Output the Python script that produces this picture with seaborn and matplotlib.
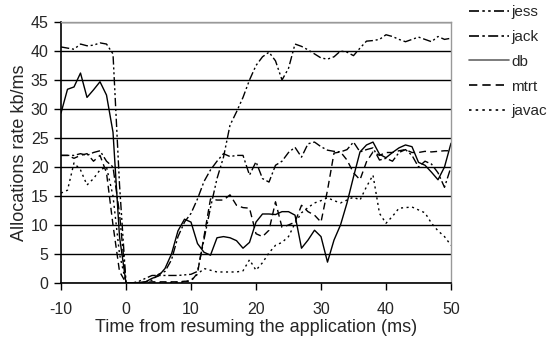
import numpy as np
import pandas as pd
import matplotlib
matplotlib.use("Agg")
import matplotlib.pyplot as plt
import seaborn as sns

t = list(range(-10, 51))

jess = [40.7, 40.5, 40.3, 41.2, 40.9, 41.0, 41.4, 41.2, 39.5, 17.0, 0.0,
        0.0, 0.3, 0.8, 1.3, 1.3, 1.3, 1.3, 1.3, 1.4, 1.5,
        2.0, 7.5, 13.0, 18.0, 21.7, 27.2, 29.5, 32.0, 35.0, 37.5,
        39.0, 39.8, 38.3, 35.0, 37.0, 41.2, 40.8, 40.2, 39.5, 38.8,
        38.6, 39.0, 40.0, 39.8, 39.2, 40.5, 41.7, 41.8, 42.0, 42.8,
        42.5, 42.0, 41.6, 42.0, 42.4, 42.0, 41.6, 42.5, 42.0, 42.2]

jack = [22.0, 22.0, 22.0, 22.3, 22.0, 22.5, 22.8, 21.0, 20.0, 12.0, 0.0,
        0.0, 0.0, 0.2, 0.5, 1.5, 2.0, 4.0, 8.0, 10.5, 12.0,
        14.5, 17.5, 19.5, 21.0, 22.3, 21.8, 22.0, 22.0, 18.6, 20.9,
        18.0, 17.4, 20.3, 21.0, 22.5, 23.4, 21.7, 24.0, 24.3, 23.5,
        22.9, 22.7, 22.6, 23.0, 24.3, 22.6, 23.0, 23.3, 21.2, 21.5,
        21.0, 22.5, 23.0, 22.0, 20.0, 21.0, 20.5, 19.0, 16.5, 20.0]

db = [29.3, 33.4, 33.8, 36.2, 32.0, 33.3, 34.7, 32.4, 26.0, 8.0, 0.0,
      0.0, 0.0, 0.2, 0.8, 1.2, 2.5, 5.0, 9.0, 11.0, 10.5,
      6.8, 5.3, 4.8, 7.8, 8.0, 7.8, 7.3, 6.0, 7.0, 10.5,
      11.9, 11.9, 11.8, 12.3, 12.3, 11.7, 6.0, 7.4, 9.1, 8.0,
      3.6, 7.4, 10.0, 13.8, 18.3, 22.6, 23.8, 24.3, 22.2, 21.6,
      22.5, 23.3, 23.8, 23.5, 20.8, 20.3, 19.1, 17.8, 20.0, 24.1]

mtrt = [22.0, 22.0, 21.5, 22.0, 22.3, 21.0, 22.0, 19.0, 10.0, 2.0, 0.0,
        0.0, 0.1, 0.1, 0.2, 0.2, 0.2, 0.2, 0.2, 0.3, 0.3,
        1.7, 8.0, 14.5, 14.3, 14.3, 15.2, 13.4, 13.0, 12.9, 8.5,
        8.0, 9.1, 14.0, 9.6, 10.0, 10.5, 13.4, 12.3, 11.7, 10.5,
        16.0, 22.4, 22.6, 21.2, 19.0, 17.8, 20.9, 22.6, 22.0, 22.5,
        22.5, 22.8, 23.0, 22.5, 22.5, 22.7, 22.6, 22.7, 22.8, 22.8]

javac = [15.5, 16.0, 20.7, 19.5, 16.9, 18.0, 19.5, 20.0, 15.0, 5.0, 0.0,
         0.0, 0.0, 0.0, 0.0, 0.0, 0.0, 0.1, 0.1, 0.2, 0.5,
         1.5, 2.5, 2.2, 1.9, 1.9, 1.9, 1.9, 2.1, 4.0, 2.2,
         3.5, 5.2, 6.5, 7.0, 8.0, 10.3, 12.1, 13.0, 13.8, 14.2,
         14.7, 14.2, 13.8, 14.3, 14.8, 14.3, 16.6, 18.6, 12.0, 10.3,
         11.5, 12.9, 13.0, 13.1, 12.6, 12.1, 10.3, 9.0, 8.0, 6.5]

series_names = ["jess", "jack", "db", "mtrt", "javac"]
series_values = [jess, jack, db, mtrt, javac]
styles = [(0, (6, 2, 1.5, 2, 1.5, 2)),
          (0, (6, 2, 1.5, 2)),
          "-",
          (0, (5, 3)),
          (0, (1.5, 2.5))]

df = pd.DataFrame({"t": t})
for n, v in zip(series_names, series_values):
    df[n] = v

sns.set_style("white")
plt.rcParams["font.family"] = ["Liberation Sans", "DejaVu Sans"]
plt.rcParams["axes.unicode_minus"] = False

fig = plt.figure(figsize=(5.5, 3.43), dpi=100)
ax = fig.add_axes([61 / 550, 60 / 343, 390 / 550, 261 / 343])

for n, ls in zip(series_names, styles):
    sns.lineplot(data=df, x="t", y=n, ax=ax, color="black", linewidth=1.0,
                 linestyle=ls, label=n)

ax.set_xlim(-10, 50)
ax.set_ylim(0, 45)
ax.set_xticks(range(-10, 51, 10))
ax.set_yticks(range(0, 46, 5))
ax.yaxis.grid(True, color="black", linewidth=1.0)
ax.xaxis.grid(False)
ax.set_axisbelow(True)
for s in ["top", "right"]:
    ax.spines[s].set_color("#999999")
    ax.spines[s].set_linewidth(1.0)
for s in ["left", "bottom"]:
    ax.spines[s].set_color("black")
    ax.spines[s].set_linewidth(1.2)
ax.tick_params(axis="both", direction="out", length=5, width=1, color="black",
               labelsize=11.5, bottom=True, left=True)
ax.tick_params(axis="x", pad=9)
ax.tick_params(axis="y", pad=4)
ax.set_xlabel("Time from resuming the application (ms)", fontsize=13, labelpad=1)
ax.set_ylabel("Allocations rate kb/ms", fontsize=13, labelpad=2)

leg = ax.legend(loc="upper left", bbox_to_anchor=(469 / 550, 1 - 5 / 343),
                bbox_transform=fig.transFigure, frameon=False, fontsize=11,
                handlelength=2.6, handletextpad=0.15, labelspacing=0.71,
                borderaxespad=0, borderpad=0)
for i, line in enumerate(leg.get_lines()):
    line.set_linewidth(1.2)
    if series_names[i] == "db":
        line.set_color("#666666")

fig.savefig("out.png", dpi=100)
